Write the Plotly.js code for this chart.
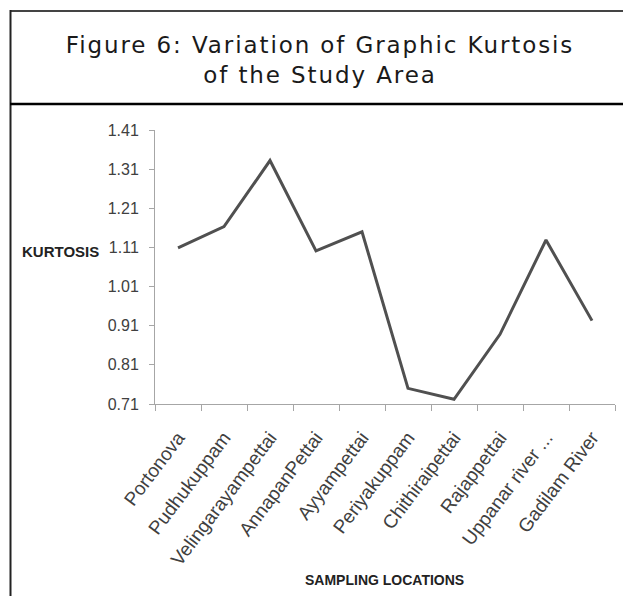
<!DOCTYPE html>
<html>
<head>
<meta charset="utf-8">
<script src="https://cdn.plot.ly/plotly-3.0.1.min.js"></script>
<style>
html,body{margin:0;padding:0;background:#fff;}
#chart{width:623px;height:596px;}
#chart .gtitle{letter-spacing:1.9px;}
</style>
</head>
<body>
<div id="chart"></div>
<script>
// ---- data ----
const locations = ["Portonova","Pudhukuppam","Velingarayampettai","AnnapanPettai","Ayyampettai","Periyakuppam","Chithiraipettai","Rajappettai","Uppanar river ...","Gadilam River"];
const kurtosis = [1.109, 1.163, 1.332, 1.101, 1.150, 0.750, 0.722, 0.888, 1.129, 0.923];
const yTickVals = [0.71, 0.81, 0.91, 1.01, 1.11, 1.21, 1.31, 1.41];
const yTickText = ["0.71","0.81","0.91","1.01","1.11","1.21","1.31","1.41"];
const chartTitle = "Figure 6: Variation of Graphic Kurtosis<br>of the Study Area";
const yTitle = "KURTOSIS";
const xTitle = "SAMPLING LOCATIONS";

// ---- geometry helpers (pixel -> paper) ----
const W = 623, H = 596;
const L = 155, R = 8, T = 130, B = 192;
const pw = W - L - R, ph = H - T - B;
const px = x => (x - L) / pw;
const py = y => (H - B - y) / ph;

const sans = "Liberation Sans, Arial, sans-serif";

const trace = {
  x: locations,
  y: kurtosis,
  type: "scatter",
  mode: "lines",
  line: {color: "#505050", width: 3},
  hoverinfo: "x+y"
};

const layout = {
  width: W, height: H,
  margin: {l: L, r: R, t: T, b: B},
  paper_bgcolor: "#ffffff",
  plot_bgcolor: "#ffffff",
  showlegend: false,
  title: {
    text: chartTitle,
    font: {family: "DejaVu Sans, sans-serif", size: 23, color: "#1a1a1a"},
    x: 320 / W, xref: "container", xanchor: "center",
    y: 1 - 53 / H, yref: "container", yanchor: "top"
  },
  xaxis: {
    type: "category",
    range: [-0.5, locations.length - 0.5],
    showline: true, linecolor: "#a6a6a6", linewidth: 1,
    showgrid: false, zeroline: false,
    ticks: "outside", ticklen: 6, tickcolor: "#a6a6a6",
    tickson: "boundaries",
    tickangle: -53,
    ticklabelstandoff: 14,
    tickfont: {family: sans, size: 19, color: "#404040"},
    fixedrange: true
  },
  yaxis: {
    range: [0.71, 1.41],
    tickvals: yTickVals, ticktext: yTickText,
    showline: true, linecolor: "#a6a6a6", linewidth: 1,
    showgrid: false, zeroline: false,
    ticks: "outside", ticklen: 5, tickcolor: "#a6a6a6",
    ticklabelstandoff: 7,
    tickfont: {family: sans, size: 16, color: "#404040"},
    fixedrange: true
  },
  annotations: [
    {text: yTitle, xref: "paper", yref: "paper", x: px(60.5), y: py(251.5),
     xanchor: "center", yanchor: "middle", showarrow: false,
     font: {family: sans, size: 15, color: "#222", weight: "bold"}},
    {text: xTitle, xref: "paper", yref: "paper", x: px(384), y: py(580),
     xanchor: "center", yanchor: "middle", showarrow: false,
     font: {family: sans, size: 14, color: "#222", weight: "bold"}}
  ],
  shapes: [
    {type: "line", xref: "paper", yref: "paper", x0: px(10), x1: px(640), y0: py(11), y1: py(11),
     line: {color: "#444444", width: 2}},
    {type: "line", xref: "paper", yref: "paper", x0: px(10.5), x1: px(10.5), y0: py(10), y1: py(620),
     line: {color: "#222222", width: 2}},
    {type: "line", xref: "paper", yref: "paper", x0: px(10), x1: px(640), y0: py(104), y1: py(104),
     line: {color: "#000000", width: 2.5}}
  ]
};

Plotly.newPlot("chart", [trace], layout, {displayModeBar: false, staticPlot: true});
</script>
</body>
</html>
